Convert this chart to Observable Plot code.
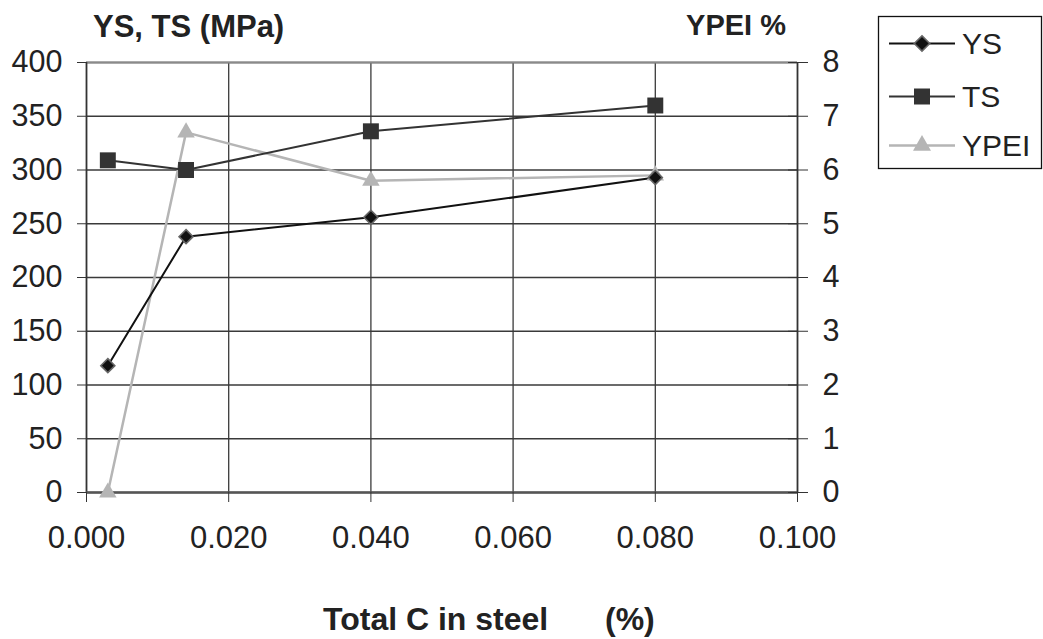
<!DOCTYPE html>
<html>
<head>
<meta charset="utf-8">
<script src="https://cdn.jsdelivr.net/npm/d3@7"></script>
<script src="https://cdn.jsdelivr.net/npm/@observablehq/plot@0.6"></script>
<style>
  html, body { margin: 0; padding: 0; background: #fff; }
  #chart { width: 1043px; height: 639px; }
</style>
</head>
<body>
<div id="chart"></div>
<script>
// ---- data ----
const carbon = [0.003, 0.014, 0.040, 0.080];
const ys = [118, 238, 256, 293];
const ts = [309, 300, 336, 360];
const ypei = [0, 6.7, 5.8, 5.9];

const xTicks = [0, 0.02, 0.04, 0.06, 0.08, 0.1];
const yTicks = [0, 50, 100, 150, 200, 250, 300, 350, 400];
const ypeiTicks = [0, 1, 2, 3, 4, 5, 6, 7, 8];

const seriesNames = ["YS", "TS", "YPEI"];

// right axis maps onto left axis range
const k = yTicks[yTicks.length - 1] / ypeiTicks[ypeiTicks.length - 1];

const ysData = carbon.map((c, i) => ({c, v: ys[i]}));
const tsData = carbon.map((c, i) => ({c, v: ts[i]}));
const ypData = carbon.map((c, i) => ({c, v: ypei[i] * k}));

const FONT = "'Liberation Sans', Arial, Helvetica, sans-serif";

const plot = Plot.plot({
  width: 1043,
  height: 639,
  marginLeft: 86,
  marginRight: 246,
  marginTop: 62,
  marginBottom: 147,
  style: {fontFamily: FONT, color: "#222", background: "#fff", overflow: "visible"},
  x: {domain: [0, 0.1]},
  y: {domain: [0, 400]},
  marks: [
    Plot.gridY(yTicks, {stroke: "#3a3a3a", strokeOpacity: 1, strokeWidth: 1.3}),
    Plot.gridX(xTicks, {stroke: "#3a3a3a", strokeOpacity: 1, strokeWidth: 1.3}),
    Plot.ruleY([400], {stroke: "#8a8a8a", strokeWidth: 2}),
    Plot.ruleX([0], {stroke: "#333", strokeWidth: 1.6}),
    Plot.ruleX([0.1], {stroke: "#333", strokeWidth: 1.6}),
    Plot.ruleY([0], {stroke: "#555", strokeWidth: 2.5}),
    Plot.axisY({anchor: "left", ticks: yTicks, tickSize: 9, tickPadding: 15, fontSize: 30.5, stroke: "#333", label: null}),
    Plot.axisY({anchor: "right", ticks: yTicks, tickFormat: d => ypeiTicks[yTicks.indexOf(d)], tickSize: 20, dx: -10, tickPadding: 15, fontSize: 30.5, stroke: "#333", label: null}),
    Plot.axisX({anchor: "bottom", ticks: xTicks, tickFormat: d3.format(".3f"), tickSize: 10, tickPadding: 23, fontSize: 31, stroke: "#333", label: null}),
    Plot.line(ypData, {x: "c", y: "v", stroke: "#b5b5b5", strokeWidth: 2.5}),
    Plot.line(tsData, {x: "c", y: "v", stroke: "#333", strokeWidth: 2}),
    Plot.line(ysData, {x: "c", y: "v", stroke: "#111", strokeWidth: 2}),
    Plot.dot(ypData, {x: "c", y: "v", symbol: "triangle", r: 6.5, fill: "#b5b5b5", stroke: "none"}),
    Plot.dot(tsData, {x: "c", y: "v", symbol: "square", r: 9, fill: "#333", stroke: "none"}),
    Plot.dot(ysData, {x: "c", y: "v", symbol: "diamond2", r: 6.3, fill: "#111", stroke: "#666", strokeWidth: 1.6})
  ]
});

document.getElementById("chart").appendChild(plot);

// ---- titles & legend ----
const svg = d3.select(plot);
const g = svg.append("g").attr("font-family", FONT).attr("fill", "#222").attr("text-anchor", "start");

g.append("text").attr("x", 93).attr("y", 37).attr("font-size", 31).attr("font-weight", "bold").text("YS, TS (MPa)");
g.append("text").attr("x", 786).attr("y", 35).attr("text-anchor", "end").attr("font-size", 29).attr("font-weight", "bold").text("YPEI %");
g.append("text").attr("x", 323).attr("y", 630).attr("font-size", 32).attr("font-weight", "bold").text("Total C in steel");
g.append("text").attr("x", 605).attr("y", 630).attr("font-size", 32).attr("font-weight", "bold").text("(%)");

const leg = g.append("g");
leg.append("rect").attr("x", 878.5).attr("y", 16.5).attr("width", 163).attr("height", 152)
  .attr("fill", "#fff").attr("stroke", "#111").attr("stroke-width", 1.3);

const legendSpec = [
  {name: seriesNames[0], y: 43.5, line: "#111", w: 2, sym: d3.symbolDiamond2, size: 150, fill: "#111", stroke: "#666"},
  {name: seriesNames[1], y: 96.5, line: "#333", w: 2, sym: d3.symbolSquare, size: 256, fill: "#333", stroke: "none"},
  {name: seriesNames[2], y: 145.5, line: "#b5b5b5", w: 2.5, sym: d3.symbolTriangle, size: 140, fill: "#b5b5b5", stroke: "none"}
];
legendSpec.forEach(s => {
  leg.append("line").attr("x1", 889).attr("x2", 955).attr("y1", s.y).attr("y2", s.y)
    .attr("stroke", s.line).attr("stroke-width", s.w);
  leg.append("path").attr("d", d3.symbol(s.sym, s.size)()).attr("transform", `translate(922,${s.y})`)
    .attr("fill", s.fill).attr("stroke", s.stroke).attr("stroke-width", 1.6);
  leg.append("text").attr("x", 962).attr("y", s.y).attr("dy", "0.35em").attr("font-size", 30).text(s.name);
});
</script>
</body>
</html>
